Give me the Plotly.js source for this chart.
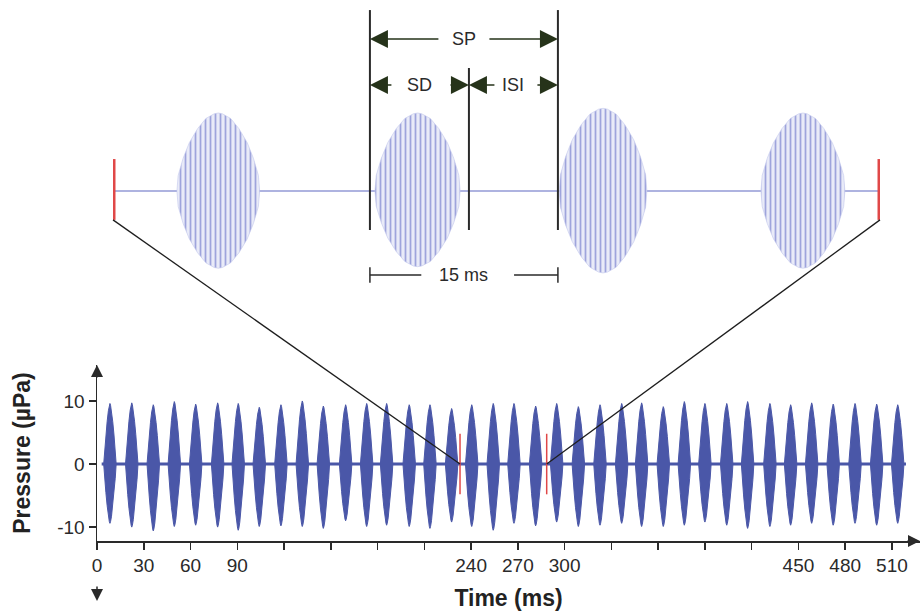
<!DOCTYPE html>
<html><head><meta charset="utf-8">
<script src="https://cdn.plot.ly/plotly-3.0.1.min.js"></script>
<style>html,body{margin:0;padding:0;background:#fff}#chart{width:922px;height:616px}</style>
</head><body><div id="chart"></div>
<script>
// ---------- Bottom panel: full stimulus train (ms, µPa) ----------
const burstCentersMs = [8.3, 22.3, 36.1, 49.6, 63.3, 77.4, 90.6, 104.1, 118.0, 131.7, 145.2, 159.5, 173.0,
  185.8, 200.3, 213.6, 227.5, 240.4, 254.2, 267.5, 281.4, 294.9, 308.8, 322.7, 336.6, 349.4,
  363.3, 376.8, 390.0, 404.0, 417.4, 431.7, 445.0, 458.5, 472.3, 486.3, 500.2, 513.7];
const burstPeaks = [9.6, 9.7, 9.4, 9.9, 9.5, 9.7, 9.6, 9.0, 9.4, 10.0, 9.2, 9.4, 9.6,
  9.6, 9.4, 9.4, 8.8, 9.4, 9.6, 9.6, 9.2, 9.6, 9.1, 9.4, 9.6, 9.7,
  9.1, 9.9, 9.6, 9.6, 9.9, 9.6, 9.4, 9.7, 9.5, 9.6, 9.5, 9.4];
const burstTroughs = [-9.4, -10.0, -10.6, -9.9, -9.7, -10.0, -10.5, -9.9, -9.8, -9.9, -10.2, -9.0, -9.9,
  -9.7, -9.9, -10.2, -9.2, -9.9, -10.5, -9.4, -9.8, -9.2, -9.9, -9.7, -9.4, -9.9,
  -9.9, -9.7, -9.2, -9.7, -10.2, -9.9, -9.7, -9.4, -9.7, -9.4, -9.7, -9.4];
const burstHalfWidthMs = 4.0;
const baselineSpanMs = [3, 519];
// envelope profile of one burst (relative time, relative amplitude)
const bottomEnvT = [-1, -0.85, -0.65, -0.45, -0.25, -0.1, 0, 0.1, 0.25, 0.45, 0.65, 0.85, 1];
const bottomEnvA = [0, 0.24, 0.48, 0.7, 0.88, 0.97, 1, 0.97, 0.88, 0.7, 0.48, 0.24, 0];
const xTickVals = [0, 30, 60, 90, 120, 150, 180, 210, 240, 270, 300, 330, 360, 390, 420, 450, 480, 510];
const xTickText = ['0', '30', '60', '90', '', '', '', '', '240', '270', '300', '', '', '', '', '450', '480', '510'];
const yTickVals = [-10, 0, 10];
const yTickText = ['-10', '0', '10'];
const zoomWindowMs = [232.9, 288.5];   // red markers on the train
const zoomMarkerHalf = 4.8;

// ---------- Top panel: magnified view (ms from window start, relative amplitude) ----------
const topSpanMs = 61.2;
const topCenters = [8.4, 24.3, 39.1, 55.05];
const topHalfWidths = [3.3, 3.4, 3.5, 3.35];
const topPeaks = [1.0, 1.0, 1.06, 1.0];
const topTroughs = [-0.99, -0.97, -1.05, -0.99];
const topEnvT = [-1, -0.97, -0.85, -0.7, -0.5, -0.3, -0.1, 0, 0.1, 0.3, 0.5, 0.7, 0.85, 0.97, 1];
const topEnvA = [0, 0.2, 0.42, 0.62, 0.8, 0.93, 0.99, 1, 0.99, 0.93, 0.8, 0.62, 0.42, 0.2, 0];
const topMarkerRange = [-0.37, 0.41];
const spStart = 20.5, sdEnd = 28.4, spEnd = 35.5;
const periodLabel = '15 ms';

// ---------- helpers ----------
function burstPolys(centers, hws, peaks, troughs, envT, envA) {
  const xs = [], ys = [];
  centers.forEach((c, i) => {
    const hw = Array.isArray(hws) ? hws[i] : hws;
    for (let k = 0; k < envT.length; k++) { xs.push(c + envT[k] * hw); ys.push(peaks[i] * envA[k]); }
    for (let k = envT.length - 1; k >= 0; k--) { xs.push(c + envT[k] * hw); ys.push(troughs[i] * envA[k]); }
    xs.push(null); ys.push(null);
  });
  return {x: xs, y: ys};
}
const W = 922, H = 616;
const FONT = 'Liberation Sans, Arial, sans-serif';
const INK = '#2a2a2a', ARROW = '#26331a', BLUE = '#4a57a8', RED = '#e04848';

const xaxisDef = {domain: [97 / W, 920 / W], range: [0, 528]};
const yaxisDef = {domain: [1 - 541 / H, 1 - 365 / H], range: [-12.2, 15.7]};
const xaxis2Def = {domain: [113 / W, 880 / W], range: [0, topSpanMs]};
const yaxis2Def = {domain: [1 - 300 / H, 1], range: [-1.397, 2.449]};
function toPaper(ax, v) { return ax.domain[0] + (v - ax.range[0]) / (ax.range[1] - ax.range[0]) * (ax.domain[1] - ax.domain[0]); }

const trainPoly = burstPolys(burstCentersMs, burstHalfWidthMs, burstPeaks, burstTroughs, bottomEnvT, bottomEnvA);
const zoomPoly = burstPolys(topCenters, topHalfWidths, topPeaks, topTroughs, topEnvT, topEnvA);

const traces = [
  {x: baselineSpanMs, y: [0, 0], mode: 'lines', line: {color: BLUE, width: 3}, xaxis: 'x', yaxis: 'y', hoverinfo: 'skip'},
  {x: trainPoly.x, y: trainPoly.y, mode: 'lines', fill: 'toself', fillcolor: BLUE, line: {color: BLUE, width: 1},
   xaxis: 'x', yaxis: 'y', hoverinfo: 'skip'},
  {x: [0, topSpanMs], y: [0, 0], mode: 'lines', line: {color: '#aeb3e0', width: 2}, xaxis: 'x2', yaxis: 'y2', hoverinfo: 'skip'},
  {x: zoomPoly.x, y: zoomPoly.y, mode: 'lines', fill: 'toself', fillcolor: '#d4d7f2',
   fillpattern: {shape: '|', size: 5, solidity: 0.35, fgcolor: '#9ea4dc', bgcolor: '#e9ebf8', fillmode: 'replace'},
   line: {color: '#c3c7ec', width: 0.6}, xaxis: 'x2', yaxis: 'y2', hoverinfo: 'skip'}
];

const spRowY = 1.949, sdRowY = 1.359, scaleRowY = -1.077;
function redBar(xv) {
  return {type: 'rect', xref: 'x2', yref: 'y2', xsizemode: 'pixel', xanchor: xv, x0: -2.5, x1: 2.5,
    y0: topMarkerRange[0], y1: topMarkerRange[1], fillcolor: RED, line: {width: 0}};
}
const shapes = [
  {type: 'line', xref: 'x2', yref: 'y2', x0: spStart, x1: spStart, y0: -0.5, y1: 2.32, line: {color: INK, width: 2}},
  {type: 'line', xref: 'x2', yref: 'y2', x0: sdEnd, x1: sdEnd, y0: -0.5, y1: 1.577, line: {color: INK, width: 2}},
  {type: 'line', xref: 'x2', yref: 'y2', x0: spEnd, x1: spEnd, y0: -0.5, y1: 2.32, line: {color: INK, width: 2}},
  {type: 'line', xref: 'x2', yref: 'y2', x0: spStart, x1: spStart + 4.1, y0: scaleRowY, y1: scaleRowY, line: {color: INK, width: 1.5}},
  {type: 'line', xref: 'x2', yref: 'y2', x0: spEnd - 3.5, x1: spEnd, y0: scaleRowY, y1: scaleRowY, line: {color: INK, width: 1.5}},
  {type: 'line', xref: 'x2', yref: 'y2', x0: spStart, x1: spStart, y0: scaleRowY - 0.1, y1: scaleRowY + 0.1, line: {color: INK, width: 1.5}},
  {type: 'line', xref: 'x2', yref: 'y2', x0: spEnd, x1: spEnd, y0: scaleRowY - 0.1, y1: scaleRowY + 0.1, line: {color: INK, width: 1.5}},
  redBar(0), redBar(topSpanMs),
  {type: 'line', xref: 'x', yref: 'y', x0: zoomWindowMs[0], x1: zoomWindowMs[0], y0: -zoomMarkerHalf, y1: zoomMarkerHalf, line: {color: RED, width: 1.5}},
  {type: 'line', xref: 'x', yref: 'y', x0: zoomWindowMs[1], x1: zoomWindowMs[1], y0: -zoomMarkerHalf, y1: zoomMarkerHalf, line: {color: RED, width: 1.5}},
  {type: 'line', xref: 'paper', yref: 'paper', x0: toPaper(xaxis2Def, 0), y0: toPaper(yaxis2Def, topMarkerRange[0]),
   x1: toPaper(xaxisDef, zoomWindowMs[0]), y1: toPaper(yaxisDef, 0), line: {color: '#1e1e1e', width: 1.3}},
  {type: 'line', xref: 'paper', yref: 'paper', x0: toPaper(xaxis2Def, topSpanMs), y0: toPaper(yaxis2Def, topMarkerRange[0]),
   x1: toPaper(xaxisDef, zoomWindowMs[1]), y1: toPaper(yaxisDef, 0), line: {color: '#1e1e1e', width: 1.3}}
];

function arrow(x, y, ax) {
  return {xref: 'x2', yref: 'y2', x: x, y: y, ax: ax, ay: 0, text: '', showarrow: true,
    arrowhead: 2, arrowsize: 2.4, arrowwidth: 1.5, arrowcolor: ARROW};
}
function label(x, y, t) {
  return {xref: 'x2', yref: 'y2', x: x, y: y, text: t, showarrow: false, font: {family: FONT, size: 18, color: INK}};
}
const annotations = [
  arrow(spStart, spRowY, 70), arrow(spEnd, spRowY, -70), label((spStart + spEnd) / 2, spRowY, 'SP'),
  arrow(spStart, sdRowY, 23), arrow(sdEnd, sdRowY, -20), label((spStart + sdEnd) / 2, sdRowY, 'SD'),
  arrow(sdEnd, sdRowY, 27), arrow(spEnd, sdRowY, -22), label((sdEnd + spEnd) / 2, sdRowY, 'ISI'),
  label((spStart + spEnd) / 2, scaleRowY, periodLabel),
  {xref: 'x', yref: 'y', x: xaxisDef.range[1], y: yaxisDef.range[0], ax: -14, ay: 0, text: '', showarrow: true,
   arrowhead: 2, arrowsize: 1.6, arrowwidth: 1.5, arrowcolor: INK},
  {xref: 'x', yref: 'y', x: 0, y: yaxisDef.range[1], ax: 0, ay: 14, text: '', showarrow: true,
   arrowhead: 2, arrowsize: 1.6, arrowwidth: 1.5, arrowcolor: INK},
  {xref: 'x', yref: 'paper', x: 0, y: 1 - 601 / H, ax: 0, ay: -16, text: '', showarrow: true,
   arrowhead: 2, arrowsize: 1.6, arrowwidth: 1.5, arrowcolor: INK}
];

const axisCommon = {showgrid: false, zeroline: false, showline: true, linecolor: INK, linewidth: 1.5,
  ticks: 'outside', ticklen: 7, tickwidth: 1.5, tickcolor: INK, automargin: false,
  tickfont: {family: FONT, size: 19, color: INK}};

const layout = {
  width: W, height: H, margin: {l: 0, r: 0, t: 0, b: 0}, paper_bgcolor: '#ffffff', plot_bgcolor: 'rgba(0,0,0,0)',
  showlegend: false, hovermode: false,
  xaxis: Object.assign({}, axisCommon, xaxisDef, {anchor: 'y', tickmode: 'array', tickvals: xTickVals, ticktext: xTickText,
    title: {text: '<b>Time (ms)</b>', font: {family: FONT, size: 23, color: '#222'}, standoff: 14}}),
  yaxis: Object.assign({}, axisCommon, yaxisDef, {anchor: 'x', tickmode: 'array', tickvals: yTickVals, ticktext: yTickText,
    title: {text: '<b>Pressure (µPa)</b>', font: {family: FONT, size: 23, color: '#222'}, standoff: 20}}),
  xaxis2: Object.assign({}, xaxis2Def, {anchor: 'y2', visible: false, showgrid: false, zeroline: false}),
  yaxis2: Object.assign({}, yaxis2Def, {anchor: 'x2', visible: false, showgrid: false, zeroline: false}),
  shapes: shapes, annotations: annotations
};
Plotly.newPlot('chart', traces, layout, {staticPlot: true, displayModeBar: false});
</script></body></html>
